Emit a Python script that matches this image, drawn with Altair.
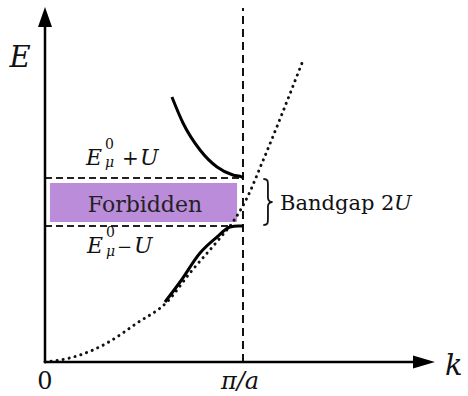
import altair as alt
import pandas as pd

# Wave vector k in units of pi/a, energy E in arbitrary units.
free_k = [0.0, 0.076, 0.177, 0.313, 0.465, 0.616, 0.732, 0.884, 0.949, 1.020, 1.096, 1.298]
free_E = [0.0, 0.02, 0.07, 0.19, 0.39, 0.60, 0.89, 1.24, 1.40, 1.64, 1.99, 2.99]

upper_k = [0.641, 0.697, 0.783, 0.869, 0.949, 0.995, 1.0]
upper_E = [2.65, 2.39, 2.12, 1.95, 1.87, 1.85, 1.84]

lower_k = [0.606, 0.682, 0.783, 0.869, 0.934, 0.975, 1.0]
lower_E = [0.60, 0.80, 1.09, 1.25, 1.35, 1.36, 1.36]

gap_edges = [1.84, 1.36]          # E0 + U, E0 - U
zone_boundary = 1.0               # k = pi/a
forbidden_k = [0.025, 0.970]
forbidden_E = [1.40, 1.79]

K_MAX = 400 / 198
E_MAX = 3.62
SERIF = "DejaVu Serif"

xs = alt.Scale(domain=[0, K_MAX], nice=False, zero=False)
ys = alt.Scale(domain=[0, E_MAX], nice=False, zero=False)


def X(field="k"):
    return alt.X(f"{field}:Q", scale=xs, axis=None)


def Y(field="E"):
    return alt.Y(f"{field}:Q", scale=ys, axis=None)


# forbidden band
rect = alt.Chart(pd.DataFrame({
    "k": [forbidden_k[0]], "k2": [forbidden_k[1]],
    "E": [forbidden_E[0]], "E2": [forbidden_E[1]],
})).mark_rect(color="#ba8cd9").encode(
    x=X(), x2="k2:Q", y=Y(), y2="E2:Q")

# dashed band-edge levels
levels = alt.Chart(pd.DataFrame({
    "k": [0.0] * len(gap_edges), "k2": [zone_boundary] * len(gap_edges), "E": gap_edges,
})).mark_rule(color="#222", strokeWidth=1.8, strokeDash=[7, 4]).encode(
    x=X(), x2="k2:Q", y=Y())

# zone boundary
boundary = alt.Chart(pd.DataFrame({
    "k": [zone_boundary], "E": [0.0], "E2": [3.54],
})).mark_rule(color="#111", strokeWidth=2, strokeDash=[8, 5]).encode(
    x=X(), y=Y(), y2="E2:Q")

# free-electron parabola
free = alt.Chart(pd.DataFrame({"k": free_k, "E": free_E})).mark_line(
    color="#111", strokeWidth=3, strokeDash=[0.1, 6], strokeCap="round",
    interpolate="monotone").encode(x=X(), y=Y())

# perturbed bands
bands_df = pd.concat([
    pd.DataFrame({"k": upper_k, "E": upper_E, "band": "upper"}),
    pd.DataFrame({"k": lower_k, "E": lower_E, "band": "lower"}),
])
bands = alt.Chart(bands_df).mark_line(
    color="#000", strokeWidth=3, interpolate="monotone").encode(
    x=X(), y=Y(), detail="band:N", order="k:Q")

# axes with arrow heads
axes = alt.Chart(pd.DataFrame({
    "k": [0.0, 0.0], "k2": [0.0, 1.92], "E": [0.0, 0.0], "E2": [3.35, 0.0],
})).mark_rule(color="#000", strokeWidth=2.5).encode(
    x=X(), x2="k2:Q", y=Y(), y2="E2:Q")

arrow_up = alt.Chart(pd.DataFrame({"k": [0.0], "E": [3.45]})).mark_point(
    shape="M0,-1L0.7,1L-0.7,1Z", size=400, filled=True, color="#000", opacity=1,
    strokeWidth=0).encode(x=X(), y=Y())
arrow_right = alt.Chart(pd.DataFrame({"k": [1.914], "E": [0.0]})).mark_point(
    shape="M1,0L-1,-0.6L-1,0.6Z", size=484, filled=True, color="#000", opacity=1,
    strokeWidth=0).encode(x=X(), y=Y())

# curly brace spanning the gap
brace = alt.Chart(pd.DataFrame({"k": [1.126], "E": [sum(gap_edges) / 2]})).mark_point(
    shape=("M-0.2,-1 C0,-1 0,-0.92 0,-0.72 L0,-0.2 C0,-0.06 0.08,0 0.2,0 "
           "C0.08,0 0,0.06 0,0.2 L0,0.72 C0,0.92 0,1 -0.2,1"),
    size=46 * 46, filled=False, color="#111", opacity=1, strokeWidth=1.8,
).encode(x=X(), y=Y())


def labels(rows, size, style="normal", align="left", color="#111"):
    df = pd.DataFrame(rows, columns=["k", "E", "t"])
    return alt.Chart(df).mark_text(
        font=SERIF, fontSize=size, fontStyle=style, align=align,
        baseline="alphabetic", color=color).encode(x=X(), y=Y(), text="t:N")


texts = [
    labels([(-0.126, 2.95, "E")], 29, "italic", "center"),
    labels([(2.02, -0.13, "k")], 29, "italic"),
    labels([(0.0, -0.27, "0")], 24, "normal", "center"),
    labels([(0.985, -0.27, "π/a")], 24, "italic", "center"),
    # E_mu^0 + U  /  E_mu^0 - U
    labels([(0.207, 1.97, "E"), (0.480, 1.97, "U"),
            (0.212, 1.09, "E"), (0.449, 1.09, "U")], 22, "italic"),
    labels([(0.389, 1.97, "+")], 20),
    labels([(0.364, 1.09, "−")], 18),
    labels([(0.303, 2.13, "0"), (0.308, 1.25, "0")], 14),
    labels([(0.303, 1.95, "μ"), (0.308, 1.06, "μ")], 14, "italic"),
    labels([(0.505, 1.50, "Forbidden")], 22, "normal", "center", "#222"),
    labels([(1.187, 1.52, "Bandgap 2")], 21),
    labels([(1.763, 1.52, "U")], 21, "italic"),
]

chart = alt.layer(
    rect, levels, boundary, free, bands, axes, arrow_up, arrow_right, brace, *texts
).properties(
    width=400, height=362,
    autosize=alt.AutoSizeParams(type="none"),
    padding={"left": 45, "top": 0, "right": 23, "bottom": 34},
    background="white",
).configure_view(stroke=None)

chart.save("out.html", embed_options={"renderer": "svg", "actions": False})
